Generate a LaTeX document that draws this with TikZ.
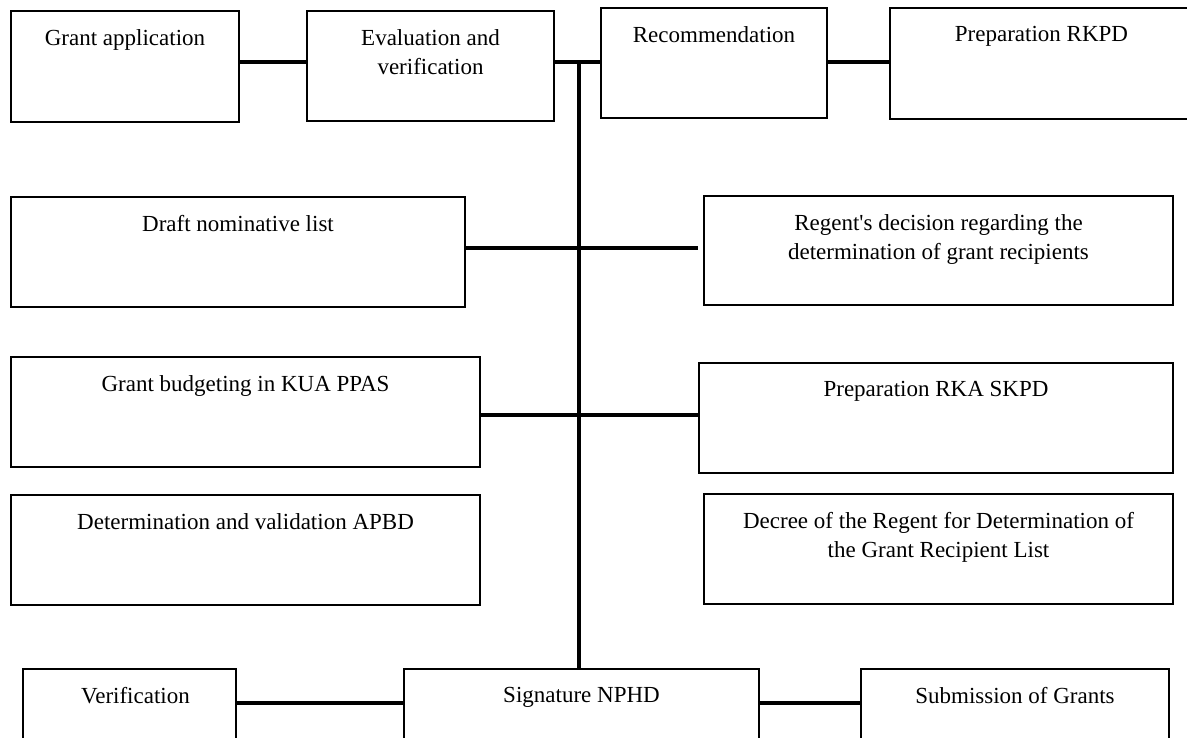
\documentclass[tikz,border=0pt]{standalone}
\usepackage{fontspec}
\setmainfont{Liberation Serif}[Ligatures=TeXOff]
\begin{document}
\begin{tikzpicture}[x=1pt,y=1pt,
  box/.style={draw=black, line width=2pt, fill=white, anchor=north west, inner sep=0pt},
  lbl/.style={anchor=north, yshift=-19.5pt, inner sep=0pt, align=center, font=\fontsize{23}{29}\selectfont},
  conn/.style={draw=black, line width=4pt}]
\useasboundingbox (0,0) rectangle (1187,-738);
\coordinate (r1) at (0,-62);
\coordinate (r2) at (0,-248);
\coordinate (r3) at (0,-415);
\coordinate (r4) at (0,-703);
\coordinate (spine) at (579,-62);
% boxes
\node[box, minimum width=228pt, minimum height=111pt, label={[lbl]north:Grant application}] (ga) at (10,-10) {};
\node[box, minimum width=247pt, minimum height=110pt, label={[lbl]north:Evaluation and\\verification}] (ev) at (306,-10) {};
\node[box, minimum width=226pt, minimum height=110pt, label={[lbl]north:Recommendation}] (rec) at (600,-7) {};
\node[box, minimum width=303pt, minimum height=111pt, label={[lbl]north:Preparation RKPD}] (rkpd) at (889,-7) {};
\node[box, minimum width=454pt, minimum height=110pt, label={[lbl]north:Draft nominative list}] (dnl) at (10,-196) {};
\node[box, minimum width=469pt, minimum height=109pt, label={[lbl]north:Regent's decision regarding the\\determination of grant recipients}] (reg) at (703,-195) {};
\node[box, minimum width=469pt, minimum height=110pt, label={[lbl]north:Grant budgeting in KUA PPAS}] (gb) at (10,-356) {};
\node[box, minimum width=474pt, minimum height=110pt, label={[lbl]north:Preparation RKA SKPD}] (rka) at (698,-362) {};
\node[box, minimum width=469pt, minimum height=110pt, label={[lbl]north:Determination and validation APBD}] (apbd) at (10,-494) {};
\node[box, minimum width=469pt, minimum height=110pt, label={[lbl]north:Decree of the Regent for Determination of\\the Grant Recipient List}] (dec) at (703,-493) {};
\node[box, minimum width=213pt, minimum height=90pt, label={[lbl,xshift=6pt]north:Verification}] (ver) at (22,-668) {};
\node[box, minimum width=355pt, minimum height=90pt, label={[lbl]north:Signature NPHD}] (nphd) at (403,-668) {};
\node[box, minimum width=308pt, minimum height=90pt, label={[lbl]north:Submission of Grants}] (sub) at (860,-668) {};
% connectors
\draw[conn] (ga.east|-r1) -- (ev.west|-r1);
\draw[conn] (ev.east|-r1) -- (rec.west|-r1);
\draw[conn] (rec.east|-r1) -- (rkpd.west|-r1);
\draw[conn] (spine) -- (spine|-nphd.north);
\draw[conn, shorten >=5pt] (dnl.east|-r2) -- (reg.west|-r2);
\draw[conn] (gb.east|-r3) -- (rka.west|-r3);
\draw[conn] (ver.east|-r4) -- (nphd.west|-r4);
\draw[conn] (nphd.east|-r4) -- (sub.west|-r4);
\end{tikzpicture}
\end{document}
